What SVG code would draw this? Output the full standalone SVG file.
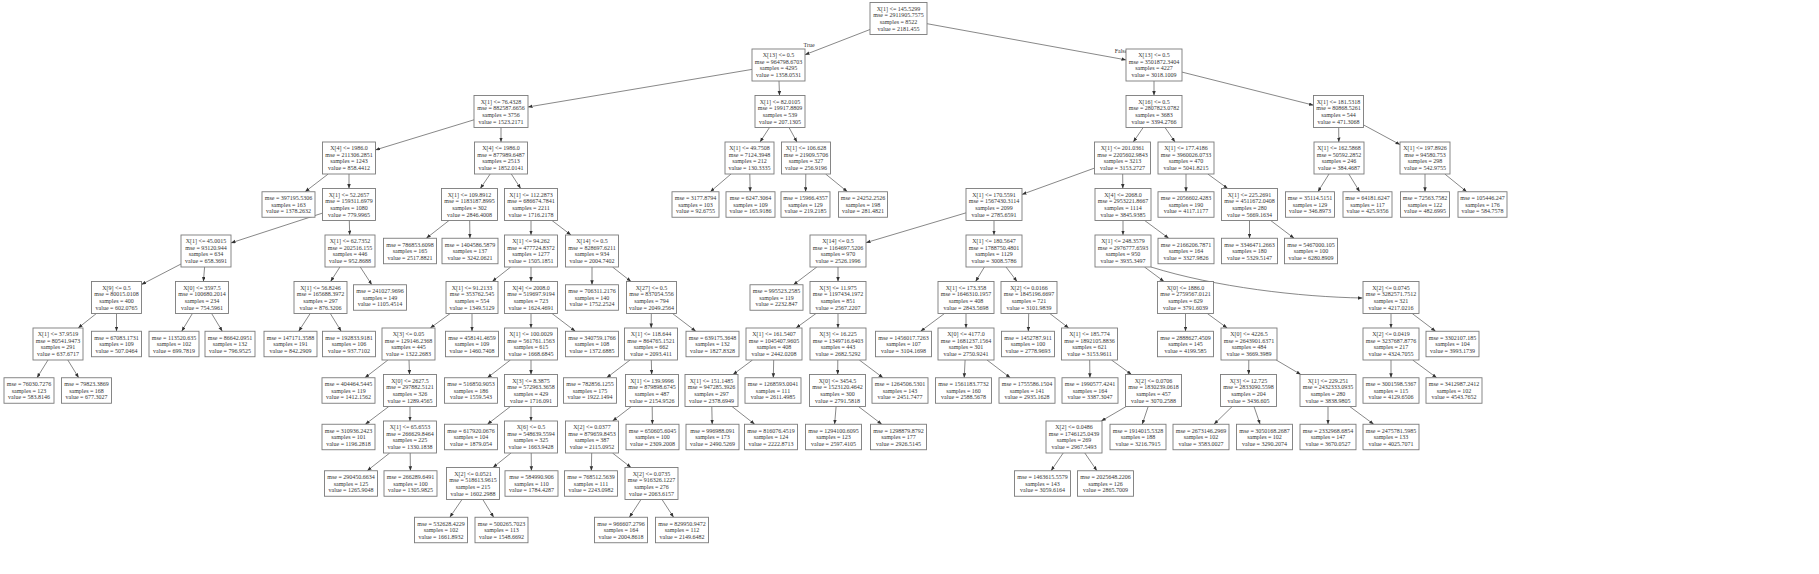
<svg xmlns="http://www.w3.org/2000/svg" width="1819" height="574" viewBox="0 0 1819 574">
<style>
rect{fill:#fff;stroke:#7a7a7a;stroke-width:0.9}
text{font-family:"Liberation Serif","Times New Roman",serif;font-size:6px;fill:#333;text-anchor:middle}
.e line,.e path{stroke:#555;stroke-width:0.7;fill:none;marker-end:url(#a)}
</style>
<defs>
<marker id="a" markerWidth="5" markerHeight="4" refX="4.5" refY="1.75" orient="auto" markerUnits="userSpaceOnUse"><path d="M0,0 L4.5,1.75 L0,3.5 z" fill="#333"/></marker>
</defs>
<rect x="0" y="0" width="1819" height="574" style="stroke:none"/>
<g class="e">
<line x1="870" y1="29.5" x2="805" y2="54.7"/>
<line x1="927" y1="23.7" x2="1126" y2="59.9"/>
<line x1="752" y1="69.4" x2="528" y2="107"/>
<line x1="779" y1="81" x2="779.5" y2="95.5"/>
<line x1="1154" y1="81" x2="1154" y2="95.5"/>
<line x1="1182" y1="72.1" x2="1313.5" y2="105.2"/>
<line x1="474" y1="119.8" x2="375.5" y2="149.9"/>
<line x1="501" y1="127.5" x2="501" y2="142"/>
<line x1="769.5" y1="127.5" x2="760" y2="142"/>
<line x1="789" y1="127.5" x2="797" y2="142"/>
<line x1="1143.2" y1="127.5" x2="1133.3" y2="142"/>
<line x1="1165" y1="127.5" x2="1175" y2="142"/>
<line x1="1338.7" y1="127.5" x2="1338.8" y2="142"/>
<line x1="1363.5" y1="124.9" x2="1400" y2="144.6"/>
<line x1="328.2" y1="174" x2="305.1" y2="191.75"/>
<line x1="349" y1="174" x2="349" y2="188.5"/>
<line x1="490.2" y1="174" x2="480.3" y2="188.5"/>
<line x1="511.3" y1="174" x2="520.7" y2="188.5"/>
<line x1="731" y1="174" x2="710.3" y2="191.75"/>
<line x1="749.8" y1="174" x2="750.2" y2="191.75"/>
<line x1="805.8" y1="174" x2="805.6" y2="191.75"/>
<line x1="825.6" y1="174" x2="847.4" y2="191.75"/>
<line x1="1094.5" y1="168.1" x2="1022" y2="194.4"/>
<line x1="1122.7" y1="174" x2="1122.8" y2="188.5"/>
<line x1="1186" y1="174" x2="1186" y2="191.75"/>
<line x1="1207.8" y1="174" x2="1227.7" y2="188.5"/>
<line x1="1329" y1="174" x2="1317.9" y2="191.75"/>
<line x1="1348.8" y1="174" x2="1359.7" y2="191.75"/>
<line x1="1425" y1="174" x2="1425" y2="191.75"/>
<line x1="1444.8" y1="174" x2="1466.7" y2="191.75"/>
<line x1="322.5" y1="213.1" x2="231" y2="242.9"/>
<line x1="349.3" y1="220.5" x2="349.7" y2="235"/>
<line x1="449" y1="220.5" x2="426.3" y2="238.25"/>
<line x1="469.7" y1="220.5" x2="469.9" y2="238.25"/>
<line x1="531" y1="220.5" x2="531" y2="235"/>
<line x1="552" y1="220.5" x2="571" y2="235"/>
<line x1="966" y1="212.85" x2="866" y2="242.65"/>
<line x1="994" y1="220.5" x2="994" y2="235"/>
<line x1="1123" y1="220.5" x2="1123" y2="235"/>
<line x1="1144.7" y1="220.5" x2="1168.7" y2="238.25"/>
<line x1="1249.5" y1="220.5" x2="1249.5" y2="238.25"/>
<line x1="1270.7" y1="220.5" x2="1294.1" y2="238.25"/>
<line x1="181" y1="264" x2="141.5" y2="284.5"/>
<line x1="204.6" y1="267" x2="203.4" y2="281.5"/>
<line x1="339.9" y1="267" x2="330.6" y2="281.5"/>
<line x1="360.3" y1="267" x2="371.8" y2="284.75"/>
<line x1="510.7" y1="267" x2="492.3" y2="281.5"/>
<line x1="531" y1="267" x2="531" y2="281.5"/>
<line x1="592" y1="267" x2="592" y2="284.75"/>
<line x1="612.5" y1="267" x2="631" y2="281.5"/>
<line x1="816.8" y1="267" x2="793.4" y2="284.75"/>
<line x1="838" y1="267" x2="838" y2="281.5"/>
<line x1="984.4" y1="267" x2="975.6" y2="281.5"/>
<line x1="1006" y1="267" x2="1017" y2="281.5"/>
<line x1="1144.5" y1="267" x2="1164" y2="281.5"/>
<path d="M1151,267 C1215,287 1300,297 1362.5,298"/>
<line x1="96.4" y1="313.5" x2="78.1" y2="328"/>
<line x1="116.5" y1="313.5" x2="116.5" y2="331.25"/>
<line x1="192.4" y1="313.5" x2="181.7" y2="331.25"/>
<line x1="211.6" y1="313.5" x2="222.3" y2="331.25"/>
<line x1="310.2" y1="313.5" x2="298.7" y2="331.25"/>
<line x1="330.3" y1="313.5" x2="341.2" y2="331.25"/>
<line x1="450.2" y1="313.5" x2="430.3" y2="328"/>
<line x1="472" y1="313.5" x2="472" y2="331.25"/>
<line x1="531" y1="313.5" x2="531" y2="328"/>
<line x1="552" y1="313.5" x2="575.3" y2="331.25"/>
<line x1="651.3" y1="313.5" x2="651.2" y2="328"/>
<line x1="672.5" y1="313.5" x2="695.8" y2="331.25"/>
<line x1="816" y1="313.5" x2="796" y2="328"/>
<line x1="838" y1="313.5" x2="838" y2="328"/>
<line x1="944.5" y1="313.5" x2="920.6" y2="331.25"/>
<line x1="966" y1="313.5" x2="966" y2="328"/>
<line x1="1028.7" y1="313.5" x2="1028.3" y2="331.25"/>
<line x1="1049.8" y1="313.5" x2="1068.7" y2="328"/>
<line x1="1185.5" y1="313.5" x2="1185.5" y2="331.25"/>
<line x1="1207.3" y1="313.5" x2="1227.2" y2="328"/>
<line x1="1391" y1="313.5" x2="1391" y2="328"/>
<line x1="1412.2" y1="313.5" x2="1435.6" y2="331.25"/>
<line x1="48" y1="360" x2="37" y2="377.75"/>
<line x1="67.8" y1="360" x2="78.7" y2="377.75"/>
<line x1="387.9" y1="360" x2="364.9" y2="377.75"/>
<line x1="409" y1="360" x2="409.5" y2="374.5"/>
<line x1="510.4" y1="360" x2="487.4" y2="377.75"/>
<line x1="531" y1="360" x2="531" y2="374.5"/>
<line x1="630" y1="360" x2="606.7" y2="377.75"/>
<line x1="651.3" y1="360" x2="651.7" y2="374.5"/>
<line x1="752.5" y1="360" x2="733" y2="374.5"/>
<line x1="773.7" y1="360" x2="773.3" y2="377.75"/>
<line x1="837.8" y1="360" x2="837.7" y2="374.5"/>
<line x1="859.3" y1="360" x2="883" y2="377.75"/>
<line x1="965.1" y1="360" x2="964.2" y2="377.75"/>
<line x1="987" y1="360" x2="1010.3" y2="377.75"/>
<line x1="1089.7" y1="360" x2="1089.9" y2="377.75"/>
<line x1="1111.5" y1="360" x2="1131.5" y2="374.5"/>
<line x1="1248.8" y1="360" x2="1248.7" y2="374.5"/>
<line x1="1276.2" y1="360" x2="1300.8" y2="374.5"/>
<line x1="1391" y1="360" x2="1391" y2="377.75"/>
<line x1="1412.7" y1="360" x2="1436.7" y2="377.75"/>
<line x1="388.8" y1="406.5" x2="365.3" y2="424.25"/>
<line x1="410" y1="406.5" x2="410" y2="421"/>
<line x1="510.4" y1="406.5" x2="487.4" y2="424.25"/>
<line x1="531" y1="406.5" x2="531" y2="421"/>
<line x1="631.4" y1="406.5" x2="612.6" y2="421"/>
<line x1="652.2" y1="406.5" x2="652.4" y2="424.25"/>
<line x1="711.8" y1="406.5" x2="712.2" y2="424.25"/>
<line x1="732" y1="406.5" x2="754.7" y2="424.25"/>
<line x1="836.1" y1="406.5" x2="834.6" y2="424.25"/>
<line x1="858.5" y1="406.5" x2="881.8" y2="424.25"/>
<line x1="1126.2" y1="406.5" x2="1101.3" y2="421"/>
<line x1="1148.2" y1="406.5" x2="1142.2" y2="424.25"/>
<line x1="1232.2" y1="406.5" x2="1214" y2="424.25"/>
<line x1="1254" y1="406.5" x2="1260.1" y2="424.25"/>
<line x1="1328" y1="406.5" x2="1328" y2="424.25"/>
<line x1="1349.7" y1="406.5" x2="1373.7" y2="424.25"/>
<line x1="389.7" y1="453" x2="367.2" y2="470.75"/>
<line x1="410.2" y1="453" x2="410.4" y2="470.75"/>
<line x1="511" y1="453" x2="493" y2="467.5"/>
<line x1="531.2" y1="453" x2="531.4" y2="470.75"/>
<line x1="591.7" y1="453" x2="591.3" y2="470.75"/>
<line x1="612.5" y1="453" x2="631" y2="467.5"/>
<line x1="1063.2" y1="453" x2="1051.1" y2="470.75"/>
<line x1="1084.8" y1="453" x2="1096.9" y2="470.75"/>
<line x1="462" y1="499.5" x2="449.8" y2="517.25"/>
<line x1="482.8" y1="499.5" x2="493.7" y2="517.25"/>
<line x1="641" y1="499.5" x2="629.4" y2="517.25"/>
<line x1="662" y1="499.5" x2="673.6" y2="517.25"/>
<text x="809" y="47">True</text>
<text x="1121" y="53">False</text>
</g>
<g id="n0"><rect x="870" y="2.5" width="57" height="32"/><text x="898.5" y="10.7"><tspan x="898.5">X[1] &lt;= 145.5299</tspan><tspan x="898.5" dy="6.6">mse = 2911905.7575</tspan><tspan x="898.5" dy="6.6">samples = 8522</tspan><tspan x="898.5" dy="6.6">value = 2181.455</tspan></text></g>
<g id="n1"><rect x="752" y="49" width="53" height="32"/><text x="778.5" y="57.2"><tspan x="778.5">X[13] &lt;= 0.5</tspan><tspan x="778.5" dy="6.6">mse = 964798.6703</tspan><tspan x="778.5" dy="6.6">samples = 4295</tspan><tspan x="778.5" dy="6.6">value = 1358.0531</tspan></text></g>
<g id="n2"><rect x="1126" y="49" width="56" height="32"/><text x="1154" y="57.2"><tspan x="1154">X[13] &lt;= 0.5</tspan><tspan x="1154" dy="6.6">mse = 3501872.3404</tspan><tspan x="1154" dy="6.6">samples = 4227</tspan><tspan x="1154" dy="6.6">value = 3018.1009</tspan></text></g>
<g id="n3"><rect x="474" y="95.5" width="54" height="32"/><text x="501" y="103.7"><tspan x="501">X[1] &lt;= 76.4328</tspan><tspan x="501" dy="6.6">mse = 882587.6656</tspan><tspan x="501" dy="6.6">samples = 3756</tspan><tspan x="501" dy="6.6">value = 1523.2171</tspan></text></g>
<g id="n4"><rect x="755" y="95.5" width="50" height="32"/><text x="780" y="103.7"><tspan x="780">X[1] &lt;= 82.0105</tspan><tspan x="780" dy="6.6">mse = 19917.8809</tspan><tspan x="780" dy="6.6">samples = 539</tspan><tspan x="780" dy="6.6">value = 207.1305</tspan></text></g>
<g id="n5"><rect x="1126" y="95.5" width="56" height="32"/><text x="1154" y="103.7"><tspan x="1154">X[16] &lt;= 0.5</tspan><tspan x="1154" dy="6.6">mse = 2807823.0782</tspan><tspan x="1154" dy="6.6">samples = 3683</tspan><tspan x="1154" dy="6.6">value = 3394.2766</tspan></text></g>
<g id="n6"><rect x="1313.5" y="95.5" width="50" height="32"/><text x="1338.5" y="103.7"><tspan x="1338.5">X[1] &lt;= 181.5318</tspan><tspan x="1338.5" dy="6.6">mse = 80868.5261</tspan><tspan x="1338.5" dy="6.6">samples = 544</tspan><tspan x="1338.5" dy="6.6">value = 471.3068</tspan></text></g>
<g id="n7"><rect x="322.5" y="142" width="53" height="32"/><text x="349" y="150.2"><tspan x="349">X[4] &lt;= 1986.0</tspan><tspan x="349" dy="6.6">mse = 211306.2851</tspan><tspan x="349" dy="6.6">samples = 1243</tspan><tspan x="349" dy="6.6">value = 858.4412</tspan></text></g>
<g id="n8"><rect x="474.5" y="142" width="53" height="32"/><text x="501" y="150.2"><tspan x="501">X[4] &lt;= 1986.0</tspan><tspan x="501" dy="6.6">mse = 877989.6487</tspan><tspan x="501" dy="6.6">samples = 2513</tspan><tspan x="501" dy="6.6">value = 1852.0141</tspan></text></g>
<g id="n9"><rect x="725" y="142" width="49" height="32"/><text x="749.5" y="150.2"><tspan x="749.5">X[1] &lt;= 49.7508</tspan><tspan x="749.5" dy="6.6">mse = 7124.3948</tspan><tspan x="749.5" dy="6.6">samples = 212</tspan><tspan x="749.5" dy="6.6">value = 130.3335</tspan></text></g>
<g id="n10"><rect x="781.5" y="142" width="49" height="32"/><text x="806" y="150.2"><tspan x="806">X[1] &lt;= 106.628</tspan><tspan x="806" dy="6.6">mse = 21909.5706</tspan><tspan x="806" dy="6.6">samples = 327</tspan><tspan x="806" dy="6.6">value = 256.9196</tspan></text></g>
<g id="n11"><rect x="1094.5" y="142" width="56" height="32"/><text x="1122.5" y="150.2"><tspan x="1122.5">X[1] &lt;= 201.0361</tspan><tspan x="1122.5" dy="6.6">mse = 2205602.9843</tspan><tspan x="1122.5" dy="6.6">samples = 3213</tspan><tspan x="1122.5" dy="6.6">value = 3153.2727</tspan></text></g>
<g id="n12"><rect x="1158" y="142" width="56" height="32"/><text x="1186" y="150.2"><tspan x="1186">X[1] &lt;= 177.4186</tspan><tspan x="1186" dy="6.6">mse = 3960026.0733</tspan><tspan x="1186" dy="6.6">samples = 470</tspan><tspan x="1186" dy="6.6">value = 5041.8215</tspan></text></g>
<g id="n13"><rect x="1314" y="142" width="50" height="32"/><text x="1339" y="150.2"><tspan x="1339">X[1] &lt;= 162.5868</tspan><tspan x="1339" dy="6.6">mse = 50592.2852</tspan><tspan x="1339" dy="6.6">samples = 246</tspan><tspan x="1339" dy="6.6">value = 384.4687</tspan></text></g>
<g id="n14"><rect x="1400" y="142" width="50" height="32"/><text x="1425" y="150.2"><tspan x="1425">X[1] &lt;= 197.8926</tspan><tspan x="1425" dy="6.6">mse = 94580.753</tspan><tspan x="1425" dy="6.6">samples = 298</tspan><tspan x="1425" dy="6.6">value = 542.9755</tspan></text></g>
<g id="n15"><rect x="262" y="191.75" width="53" height="25.5"/><text x="288.5" y="200"><tspan x="288.5">mse = 397195.5306</tspan><tspan x="288.5" dy="6.6">samples = 163</tspan><tspan x="288.5" dy="6.6">value = 1378.2632</tspan></text></g>
<g id="n16"><rect x="322.5" y="188.5" width="53" height="32"/><text x="349" y="196.7"><tspan x="349">X[1] &lt;= 52.2657</tspan><tspan x="349" dy="6.6">mse = 159311.6979</tspan><tspan x="349" dy="6.6">samples = 1080</tspan><tspan x="349" dy="6.6">value = 779.9965</tspan></text></g>
<g id="n17"><rect x="441.5" y="188.5" width="56" height="32"/><text x="469.5" y="196.7"><tspan x="469.5">X[1] &lt;= 109.8912</tspan><tspan x="469.5" dy="6.6">mse = 1183187.8995</tspan><tspan x="469.5" dy="6.6">samples = 302</tspan><tspan x="469.5" dy="6.6">value = 2846.4008</tspan></text></g>
<g id="n18"><rect x="504.5" y="188.5" width="53" height="32"/><text x="531" y="196.7"><tspan x="531">X[1] &lt;= 112.2873</tspan><tspan x="531" dy="6.6">mse = 686674.7841</tspan><tspan x="531" dy="6.6">samples = 2211</tspan><tspan x="531" dy="6.6">value = 1716.2178</tspan></text></g>
<g id="n19"><rect x="672" y="191.75" width="47" height="25.5"/><text x="695.5" y="200"><tspan x="695.5">mse = 3177.8794</tspan><tspan x="695.5" dy="6.6">samples = 103</tspan><tspan x="695.5" dy="6.6">value = 92.6755</tspan></text></g>
<g id="n20"><rect x="726" y="191.75" width="49" height="25.5"/><text x="750.5" y="200"><tspan x="750.5">mse = 6247.3064</tspan><tspan x="750.5" dy="6.6">samples = 109</tspan><tspan x="750.5" dy="6.6">value = 165.9186</tspan></text></g>
<g id="n21"><rect x="781" y="191.75" width="49" height="25.5"/><text x="805.5" y="200"><tspan x="805.5">mse = 15966.4357</tspan><tspan x="805.5" dy="6.6">samples = 129</tspan><tspan x="805.5" dy="6.6">value = 219.2185</tspan></text></g>
<g id="n22"><rect x="838.5" y="191.75" width="49" height="25.5"/><text x="863" y="200"><tspan x="863">mse = 24252.2526</tspan><tspan x="863" dy="6.6">samples = 198</tspan><tspan x="863" dy="6.6">value = 281.4821</tspan></text></g>
<g id="n23"><rect x="966" y="188.5" width="56" height="32"/><text x="994" y="196.7"><tspan x="994">X[1] &lt;= 170.5591</tspan><tspan x="994" dy="6.6">mse = 1567430.3114</tspan><tspan x="994" dy="6.6">samples = 2099</tspan><tspan x="994" dy="6.6">value = 2785.6591</tspan></text></g>
<g id="n24"><rect x="1095" y="188.5" width="56" height="32"/><text x="1123" y="196.7"><tspan x="1123">X[4] &lt;= 2068.0</tspan><tspan x="1123" dy="6.6">mse = 2953221.8667</tspan><tspan x="1123" dy="6.6">samples = 1114</tspan><tspan x="1123" dy="6.6">value = 3845.9385</tspan></text></g>
<g id="n25"><rect x="1158" y="191.75" width="56" height="25.5"/><text x="1186" y="200"><tspan x="1186">mse = 2056602.4283</tspan><tspan x="1186" dy="6.6">samples = 190</tspan><tspan x="1186" dy="6.6">value = 4117.1177</tspan></text></g>
<g id="n26"><rect x="1221.5" y="188.5" width="56" height="32"/><text x="1249.5" y="196.7"><tspan x="1249.5">X[1] &lt;= 225.2691</tspan><tspan x="1249.5" dy="6.6">mse = 4511672.0408</tspan><tspan x="1249.5" dy="6.6">samples = 280</tspan><tspan x="1249.5" dy="6.6">value = 5669.1634</tspan></text></g>
<g id="n27"><rect x="1285.5" y="191.75" width="49" height="25.5"/><text x="1310" y="200"><tspan x="1310">mse = 35114.5151</tspan><tspan x="1310" dy="6.6">samples = 129</tspan><tspan x="1310" dy="6.6">value = 346.8973</tspan></text></g>
<g id="n28"><rect x="1343" y="191.75" width="49" height="25.5"/><text x="1367.5" y="200"><tspan x="1367.5">mse = 64181.6247</tspan><tspan x="1367.5" dy="6.6">samples = 117</tspan><tspan x="1367.5" dy="6.6">value = 425.9356</tspan></text></g>
<g id="n29"><rect x="1400.5" y="191.75" width="49" height="25.5"/><text x="1425" y="200"><tspan x="1425">mse = 72563.7582</tspan><tspan x="1425" dy="6.6">samples = 122</tspan><tspan x="1425" dy="6.6">value = 482.6995</tspan></text></g>
<g id="n30"><rect x="1458" y="191.75" width="49" height="25.5"/><text x="1482.5" y="200"><tspan x="1482.5">mse = 105446.247</tspan><tspan x="1482.5" dy="6.6">samples = 176</tspan><tspan x="1482.5" dy="6.6">value = 584.7578</tspan></text></g>
<g id="n31"><rect x="181" y="235" width="50" height="32"/><text x="206" y="243.2"><tspan x="206">X[1] &lt;= 45.0015</tspan><tspan x="206" dy="6.6">mse = 93120.944</tspan><tspan x="206" dy="6.6">samples = 634</tspan><tspan x="206" dy="6.6">value = 658.3691</tspan></text></g>
<g id="n32"><rect x="325" y="235" width="50" height="32"/><text x="350" y="243.2"><tspan x="350">X[1] &lt;= 62.7352</tspan><tspan x="350" dy="6.6">mse = 202516.155</tspan><tspan x="350" dy="6.6">samples = 446</tspan><tspan x="350" dy="6.6">value = 952.8688</tspan></text></g>
<g id="n33"><rect x="383.5" y="238.25" width="53" height="25.5"/><text x="410" y="246.5"><tspan x="410">mse = 786853.6098</tspan><tspan x="410" dy="6.6">samples = 165</tspan><tspan x="410" dy="6.6">value = 2517.8821</tspan></text></g>
<g id="n34"><rect x="442" y="238.25" width="56" height="25.5"/><text x="470" y="246.5"><tspan x="470">mse = 1404586.5879</tspan><tspan x="470" dy="6.6">samples = 137</tspan><tspan x="470" dy="6.6">value = 3242.0621</tspan></text></g>
<g id="n35"><rect x="504.5" y="235" width="53" height="32"/><text x="531" y="243.2"><tspan x="531">X[1] &lt;= 94.262</tspan><tspan x="531" dy="6.6">mse = 477724.8372</tspan><tspan x="531" dy="6.6">samples = 1277</tspan><tspan x="531" dy="6.6">value = 1505.1851</tspan></text></g>
<g id="n36"><rect x="565.5" y="235" width="53" height="32"/><text x="592" y="243.2"><tspan x="592">X[14] &lt;= 0.5</tspan><tspan x="592" dy="6.6">mse = 828697.6211</tspan><tspan x="592" dy="6.6">samples = 934</tspan><tspan x="592" dy="6.6">value = 2004.7402</tspan></text></g>
<g id="n37"><rect x="810" y="235" width="56" height="32"/><text x="838" y="243.2"><tspan x="838">X[14] &lt;= 0.5</tspan><tspan x="838" dy="6.6">mse = 1164697.5206</tspan><tspan x="838" dy="6.6">samples = 970</tspan><tspan x="838" dy="6.6">value = 2526.1996</tspan></text></g>
<g id="n38"><rect x="966" y="235" width="56" height="32"/><text x="994" y="243.2"><tspan x="994">X[1] &lt;= 180.5647</tspan><tspan x="994" dy="6.6">mse = 1788750.4801</tspan><tspan x="994" dy="6.6">samples = 1129</tspan><tspan x="994" dy="6.6">value = 3008.5786</tspan></text></g>
<g id="n39"><rect x="1095" y="235" width="56" height="32"/><text x="1123" y="243.2"><tspan x="1123">X[1] &lt;= 248.3579</tspan><tspan x="1123" dy="6.6">mse = 2976777.6593</tspan><tspan x="1123" dy="6.6">samples = 950</tspan><tspan x="1123" dy="6.6">value = 3935.3497</tspan></text></g>
<g id="n40"><rect x="1158" y="238.25" width="56" height="25.5"/><text x="1186" y="246.5"><tspan x="1186">mse = 2166206.7871</tspan><tspan x="1186" dy="6.6">samples = 164</tspan><tspan x="1186" dy="6.6">value = 3327.9826</tspan></text></g>
<g id="n41"><rect x="1221.5" y="238.25" width="56" height="25.5"/><text x="1249.5" y="246.5"><tspan x="1249.5">mse = 3346471.2663</tspan><tspan x="1249.5" dy="6.6">samples = 180</tspan><tspan x="1249.5" dy="6.6">value = 5329.5147</tspan></text></g>
<g id="n42"><rect x="1284.5" y="238.25" width="53" height="25.5"/><text x="1311" y="246.5"><tspan x="1311">mse = 5467000.105</tspan><tspan x="1311" dy="6.6">samples = 100</tspan><tspan x="1311" dy="6.6">value = 6280.8909</tspan></text></g>
<g id="n43"><rect x="91.5" y="281.5" width="50" height="32"/><text x="116.5" y="289.7"><tspan x="116.5">X[9] &lt;= 0.5</tspan><tspan x="116.5" dy="6.6">mse = 80015.0108</tspan><tspan x="116.5" dy="6.6">samples = 400</tspan><tspan x="116.5" dy="6.6">value = 602.0765</tspan></text></g>
<g id="n44"><rect x="175.5" y="281.5" width="53" height="32"/><text x="202" y="289.7"><tspan x="202">X[0] &lt;= 3597.5</tspan><tspan x="202" dy="6.6">mse = 100680.2014</tspan><tspan x="202" dy="6.6">samples = 234</tspan><tspan x="202" dy="6.6">value = 754.5961</tspan></text></g>
<g id="n45"><rect x="294" y="281.5" width="53" height="32"/><text x="320.5" y="289.7"><tspan x="320.5">X[1] &lt;= 56.8246</tspan><tspan x="320.5" dy="6.6">mse = 165688.3972</tspan><tspan x="320.5" dy="6.6">samples = 297</tspan><tspan x="320.5" dy="6.6">value = 876.3206</tspan></text></g>
<g id="n46"><rect x="353.5" y="284.75" width="53" height="25.5"/><text x="380" y="293"><tspan x="380">mse = 241027.9696</tspan><tspan x="380" dy="6.6">samples = 149</tspan><tspan x="380" dy="6.6">value = 1105.4514</tspan></text></g>
<g id="n47"><rect x="446" y="281.5" width="52" height="32"/><text x="472" y="289.7"><tspan x="472">X[1] &lt;= 91.2133</tspan><tspan x="472" dy="6.6">mse = 353762.545</tspan><tspan x="472" dy="6.6">samples = 554</tspan><tspan x="472" dy="6.6">value = 1349.5129</tspan></text></g>
<g id="n48"><rect x="504.5" y="281.5" width="53" height="32"/><text x="531" y="289.7"><tspan x="531">X[4] &lt;= 2008.0</tspan><tspan x="531" dy="6.6">mse = 519697.9194</tspan><tspan x="531" dy="6.6">samples = 723</tspan><tspan x="531" dy="6.6">value = 1624.4691</tspan></text></g>
<g id="n49"><rect x="565.5" y="284.75" width="53" height="25.5"/><text x="592" y="293"><tspan x="592">mse = 706311.2176</tspan><tspan x="592" dy="6.6">samples = 140</tspan><tspan x="592" dy="6.6">value = 1752.2524</tspan></text></g>
<g id="n50"><rect x="626.5" y="281.5" width="50" height="32"/><text x="651.5" y="289.7"><tspan x="651.5">X[27] &lt;= 0.5</tspan><tspan x="651.5" dy="6.6">mse = 837054.556</tspan><tspan x="651.5" dy="6.6">samples = 794</tspan><tspan x="651.5" dy="6.6">value = 2049.2564</tspan></text></g>
<g id="n51"><rect x="750" y="284.75" width="53" height="25.5"/><text x="776.5" y="293"><tspan x="776.5">mse = 995523.2585</tspan><tspan x="776.5" dy="6.6">samples = 119</tspan><tspan x="776.5" dy="6.6">value = 2232.847</tspan></text></g>
<g id="n52"><rect x="810" y="281.5" width="56" height="32"/><text x="838" y="289.7"><tspan x="838">X[3] &lt;= 11.975</tspan><tspan x="838" dy="6.6">mse = 1197434.1972</tspan><tspan x="838" dy="6.6">samples = 851</tspan><tspan x="838" dy="6.6">value = 2567.2207</tspan></text></g>
<g id="n53"><rect x="938" y="281.5" width="56" height="32"/><text x="966" y="289.7"><tspan x="966">X[1] &lt;= 173.358</tspan><tspan x="966" dy="6.6">mse = 1646310.1957</tspan><tspan x="966" dy="6.6">samples = 408</tspan><tspan x="966" dy="6.6">value = 2843.5698</tspan></text></g>
<g id="n54"><rect x="1001" y="281.5" width="56" height="32"/><text x="1029" y="289.7"><tspan x="1029">X[2] &lt;= 0.0166</tspan><tspan x="1029" dy="6.6">mse = 1845196.6697</tspan><tspan x="1029" dy="6.6">samples = 721</tspan><tspan x="1029" dy="6.6">value = 3101.9839</tspan></text></g>
<g id="n55"><rect x="1157.5" y="281.5" width="56" height="32"/><text x="1185.5" y="289.7"><tspan x="1185.5">X[0] &lt;= 1886.0</tspan><tspan x="1185.5" dy="6.6">mse = 2759567.0121</tspan><tspan x="1185.5" dy="6.6">samples = 629</tspan><tspan x="1185.5" dy="6.6">value = 3791.6039</tspan></text></g>
<g id="n56"><rect x="1363" y="281.5" width="56" height="32"/><text x="1391" y="289.7"><tspan x="1391">X[2] &lt;= 0.0745</tspan><tspan x="1391" dy="6.6">mse = 3282571.7512</tspan><tspan x="1391" dy="6.6">samples = 321</tspan><tspan x="1391" dy="6.6">value = 4217.0216</tspan></text></g>
<g id="n57"><rect x="33" y="328" width="50" height="32"/><text x="58" y="336.2"><tspan x="58">X[1] &lt;= 37.9519</tspan><tspan x="58" dy="6.6">mse = 80541.9473</tspan><tspan x="58" dy="6.6">samples = 291</tspan><tspan x="58" dy="6.6">value = 637.6717</tspan></text></g>
<g id="n58"><rect x="91.5" y="331.25" width="50" height="25.5"/><text x="116.5" y="339.5"><tspan x="116.5">mse = 67083.1731</tspan><tspan x="116.5" dy="6.6">samples = 109</tspan><tspan x="116.5" dy="6.6">value = 507.0464</tspan></text></g>
<g id="n59"><rect x="149" y="331.25" width="50" height="25.5"/><text x="174" y="339.5"><tspan x="174">mse = 113520.635</tspan><tspan x="174" dy="6.6">samples = 102</tspan><tspan x="174" dy="6.6">value = 699.7819</tspan></text></g>
<g id="n60"><rect x="205" y="331.25" width="50" height="25.5"/><text x="230" y="339.5"><tspan x="230">mse = 86642.0951</tspan><tspan x="230" dy="6.6">samples = 132</tspan><tspan x="230" dy="6.6">value = 796.9525</tspan></text></g>
<g id="n61"><rect x="264" y="331.25" width="53" height="25.5"/><text x="290.5" y="339.5"><tspan x="290.5">mse = 147171.3588</tspan><tspan x="290.5" dy="6.6">samples = 191</tspan><tspan x="290.5" dy="6.6">value = 842.2909</tspan></text></g>
<g id="n62"><rect x="322.5" y="331.25" width="53" height="25.5"/><text x="349" y="339.5"><tspan x="349">mse = 192833.9181</tspan><tspan x="349" dy="6.6">samples = 106</tspan><tspan x="349" dy="6.6">value = 937.7102</tspan></text></g>
<g id="n63"><rect x="382" y="328" width="53" height="32"/><text x="408.5" y="336.2"><tspan x="408.5">X[3] &lt;= 0.05</tspan><tspan x="408.5" dy="6.6">mse = 129146.2368</tspan><tspan x="408.5" dy="6.6">samples = 445</tspan><tspan x="408.5" dy="6.6">value = 1322.2683</tspan></text></g>
<g id="n64"><rect x="445.5" y="331.25" width="53" height="25.5"/><text x="472" y="339.5"><tspan x="472">mse = 458141.4659</tspan><tspan x="472" dy="6.6">samples = 109</tspan><tspan x="472" dy="6.6">value = 1460.7408</tspan></text></g>
<g id="n65"><rect x="504.5" y="328" width="53" height="32"/><text x="531" y="336.2"><tspan x="531">X[1] &lt;= 100.0029</tspan><tspan x="531" dy="6.6">mse = 561761.1563</tspan><tspan x="531" dy="6.6">samples = 615</tspan><tspan x="531" dy="6.6">value = 1668.6845</tspan></text></g>
<g id="n66"><rect x="565.5" y="331.25" width="53" height="25.5"/><text x="592" y="339.5"><tspan x="592">mse = 340759.1766</tspan><tspan x="592" dy="6.6">samples = 108</tspan><tspan x="592" dy="6.6">value = 1372.6885</tspan></text></g>
<g id="n67"><rect x="624.5" y="328" width="53" height="32"/><text x="651" y="336.2"><tspan x="651">X[1] &lt;= 118.644</tspan><tspan x="651" dy="6.6">mse = 864765.1521</tspan><tspan x="651" dy="6.6">samples = 662</tspan><tspan x="651" dy="6.6">value = 2093.411</tspan></text></g>
<g id="n68"><rect x="686" y="331.25" width="53" height="25.5"/><text x="712.5" y="339.5"><tspan x="712.5">mse = 639175.3648</tspan><tspan x="712.5" dy="6.6">samples = 132</tspan><tspan x="712.5" dy="6.6">value = 1827.8328</tspan></text></g>
<g id="n69"><rect x="746" y="328" width="56" height="32"/><text x="774" y="336.2"><tspan x="774">X[1] &lt;= 161.5407</tspan><tspan x="774" dy="6.6">mse = 1045407.9605</tspan><tspan x="774" dy="6.6">samples = 408</tspan><tspan x="774" dy="6.6">value = 2442.0208</tspan></text></g>
<g id="n70"><rect x="810" y="328" width="56" height="32"/><text x="838" y="336.2"><tspan x="838">X[3] &lt;= 16.225</tspan><tspan x="838" dy="6.6">mse = 1349716.6403</tspan><tspan x="838" dy="6.6">samples = 443</tspan><tspan x="838" dy="6.6">value = 2682.5292</tspan></text></g>
<g id="n71"><rect x="875.5" y="331.25" width="56" height="25.5"/><text x="903.5" y="339.5"><tspan x="903.5">mse = 1456017.7263</tspan><tspan x="903.5" dy="6.6">samples = 107</tspan><tspan x="903.5" dy="6.6">value = 3104.1698</tspan></text></g>
<g id="n72"><rect x="938" y="328" width="56" height="32"/><text x="966" y="336.2"><tspan x="966">X[0] &lt;= 4177.0</tspan><tspan x="966" dy="6.6">mse = 1681237.1564</tspan><tspan x="966" dy="6.6">samples = 301</tspan><tspan x="966" dy="6.6">value = 2750.9241</tspan></text></g>
<g id="n73"><rect x="1001.5" y="331.25" width="53" height="25.5"/><text x="1028" y="339.5"><tspan x="1028">mse = 1452787.911</tspan><tspan x="1028" dy="6.6">samples = 100</tspan><tspan x="1028" dy="6.6">value = 2778.9693</tspan></text></g>
<g id="n74"><rect x="1061.5" y="328" width="56" height="32"/><text x="1089.5" y="336.2"><tspan x="1089.5">X[1] &lt;= 185.774</tspan><tspan x="1089.5" dy="6.6">mse = 1892105.8836</tspan><tspan x="1089.5" dy="6.6">samples = 621</tspan><tspan x="1089.5" dy="6.6">value = 3153.9611</tspan></text></g>
<g id="n75"><rect x="1157.5" y="331.25" width="56" height="25.5"/><text x="1185.5" y="339.5"><tspan x="1185.5">mse = 2888627.4509</tspan><tspan x="1185.5" dy="6.6">samples = 145</tspan><tspan x="1185.5" dy="6.6">value = 4199.585</tspan></text></g>
<g id="n76"><rect x="1221" y="328" width="56" height="32"/><text x="1249" y="336.2"><tspan x="1249">X[0] &lt;= 4226.5</tspan><tspan x="1249" dy="6.6">mse = 2643901.6371</tspan><tspan x="1249" dy="6.6">samples = 484</tspan><tspan x="1249" dy="6.6">value = 3669.3989</tspan></text></g>
<g id="n77"><rect x="1363" y="328" width="56" height="32"/><text x="1391" y="336.2"><tspan x="1391">X[2] &lt;= 0.0419</tspan><tspan x="1391" dy="6.6">mse = 3237687.8776</tspan><tspan x="1391" dy="6.6">samples = 217</tspan><tspan x="1391" dy="6.6">value = 4324.7055</tspan></text></g>
<g id="n78"><rect x="1426" y="331.25" width="53" height="25.5"/><text x="1452.5" y="339.5"><tspan x="1452.5">mse = 3302107.185</tspan><tspan x="1452.5" dy="6.6">samples = 104</tspan><tspan x="1452.5" dy="6.6">value = 3993.1739</tspan></text></g>
<g id="n79"><rect x="4" y="377.75" width="50" height="25.5"/><text x="29" y="386"><tspan x="29">mse = 76030.7276</tspan><tspan x="29" dy="6.6">samples = 123</tspan><tspan x="29" dy="6.6">value = 583.8146</tspan></text></g>
<g id="n80"><rect x="61.5" y="377.75" width="50" height="25.5"/><text x="86.5" y="386"><tspan x="86.5">mse = 79823.3869</tspan><tspan x="86.5" dy="6.6">samples = 168</tspan><tspan x="86.5" dy="6.6">value = 677.3027</tspan></text></g>
<g id="n81"><rect x="322" y="377.75" width="53" height="25.5"/><text x="348.5" y="386"><tspan x="348.5">mse = 404464.5445</tspan><tspan x="348.5" dy="6.6">samples = 119</tspan><tspan x="348.5" dy="6.6">value = 1412.1562</tspan></text></g>
<g id="n82"><rect x="383.5" y="374.5" width="53" height="32"/><text x="410" y="382.7"><tspan x="410">X[0] &lt;= 2627.5</tspan><tspan x="410" dy="6.6">mse = 297882.5121</tspan><tspan x="410" dy="6.6">samples = 326</tspan><tspan x="410" dy="6.6">value = 1289.4565</tspan></text></g>
<g id="n83"><rect x="444.5" y="377.75" width="53" height="25.5"/><text x="471" y="386"><tspan x="471">mse = 516850.9053</tspan><tspan x="471" dy="6.6">samples = 186</tspan><tspan x="471" dy="6.6">value = 1559.543</tspan></text></g>
<g id="n84"><rect x="504.5" y="374.5" width="53" height="32"/><text x="531" y="382.7"><tspan x="531">X[3] &lt;= 8.3875</tspan><tspan x="531" dy="6.6">mse = 572963.3658</tspan><tspan x="531" dy="6.6">samples = 429</tspan><tspan x="531" dy="6.6">value = 1716.091</tspan></text></g>
<g id="n85"><rect x="563.5" y="377.75" width="53" height="25.5"/><text x="590" y="386"><tspan x="590">mse = 782856.1255</tspan><tspan x="590" dy="6.6">samples = 175</tspan><tspan x="590" dy="6.6">value = 1922.1494</tspan></text></g>
<g id="n86"><rect x="625.5" y="374.5" width="53" height="32"/><text x="652" y="382.7"><tspan x="652">X[1] &lt;= 139.9996</tspan><tspan x="652" dy="6.6">mse = 879898.6745</tspan><tspan x="652" dy="6.6">samples = 487</tspan><tspan x="652" dy="6.6">value = 2154.9526</tspan></text></g>
<g id="n87"><rect x="685" y="374.5" width="53" height="32"/><text x="711.5" y="382.7"><tspan x="711.5">X[1] &lt;= 151.1485</tspan><tspan x="711.5" dy="6.6">mse = 947285.3926</tspan><tspan x="711.5" dy="6.6">samples = 297</tspan><tspan x="711.5" dy="6.6">value = 2378.6949</tspan></text></g>
<g id="n88"><rect x="745" y="377.75" width="56" height="25.5"/><text x="773" y="386"><tspan x="773">mse = 1268593.0041</tspan><tspan x="773" dy="6.6">samples = 111</tspan><tspan x="773" dy="6.6">value = 2611.4985</tspan></text></g>
<g id="n89"><rect x="809.5" y="374.5" width="56" height="32"/><text x="837.5" y="382.7"><tspan x="837.5">X[0] &lt;= 3454.5</tspan><tspan x="837.5" dy="6.6">mse = 1523120.4642</tspan><tspan x="837.5" dy="6.6">samples = 300</tspan><tspan x="837.5" dy="6.6">value = 2791.5818</tspan></text></g>
<g id="n90"><rect x="872" y="377.75" width="56" height="25.5"/><text x="900" y="386"><tspan x="900">mse = 1264506.5301</tspan><tspan x="900" dy="6.6">samples = 143</tspan><tspan x="900" dy="6.6">value = 2451.7477</tspan></text></g>
<g id="n91"><rect x="935.5" y="377.75" width="56" height="25.5"/><text x="963.5" y="386"><tspan x="963.5">mse = 1561183.7732</tspan><tspan x="963.5" dy="6.6">samples = 160</tspan><tspan x="963.5" dy="6.6">value = 2588.5678</tspan></text></g>
<g id="n92"><rect x="999" y="377.75" width="56" height="25.5"/><text x="1027" y="386"><tspan x="1027">mse = 1755586.1504</tspan><tspan x="1027" dy="6.6">samples = 141</tspan><tspan x="1027" dy="6.6">value = 2935.1628</tspan></text></g>
<g id="n93"><rect x="1062" y="377.75" width="56" height="25.5"/><text x="1090" y="386"><tspan x="1090">mse = 1990577.4241</tspan><tspan x="1090" dy="6.6">samples = 164</tspan><tspan x="1090" dy="6.6">value = 3387.3047</tspan></text></g>
<g id="n94"><rect x="1125.5" y="374.5" width="56" height="32"/><text x="1153.5" y="382.7"><tspan x="1153.5">X[2] &lt;= 0.0706</tspan><tspan x="1153.5" dy="6.6">mse = 1830239.0618</tspan><tspan x="1153.5" dy="6.6">samples = 457</tspan><tspan x="1153.5" dy="6.6">value = 3070.2588</tspan></text></g>
<g id="n95"><rect x="1220.5" y="374.5" width="56" height="32"/><text x="1248.5" y="382.7"><tspan x="1248.5">X[3] &lt;= 12.725</tspan><tspan x="1248.5" dy="6.6">mse = 2833090.5598</tspan><tspan x="1248.5" dy="6.6">samples = 204</tspan><tspan x="1248.5" dy="6.6">value = 3436.605</tspan></text></g>
<g id="n96"><rect x="1300" y="374.5" width="56" height="32"/><text x="1328" y="382.7"><tspan x="1328">X[1] &lt;= 229.251</tspan><tspan x="1328" dy="6.6">mse = 2432333.0935</tspan><tspan x="1328" dy="6.6">samples = 280</tspan><tspan x="1328" dy="6.6">value = 3838.9805</tspan></text></g>
<g id="n97"><rect x="1363" y="377.75" width="56" height="25.5"/><text x="1391" y="386"><tspan x="1391">mse = 3001598.5367</tspan><tspan x="1391" dy="6.6">samples = 115</tspan><tspan x="1391" dy="6.6">value = 4129.6506</tspan></text></g>
<g id="n98"><rect x="1426" y="377.75" width="56" height="25.5"/><text x="1454" y="386"><tspan x="1454">mse = 3412987.2412</tspan><tspan x="1454" dy="6.6">samples = 102</tspan><tspan x="1454" dy="6.6">value = 4543.7652</tspan></text></g>
<g id="n99"><rect x="322" y="424.25" width="53" height="25.5"/><text x="348.5" y="432.5"><tspan x="348.5">mse = 310936.2423</tspan><tspan x="348.5" dy="6.6">samples = 101</tspan><tspan x="348.5" dy="6.6">value = 1196.2818</tspan></text></g>
<g id="n100"><rect x="383.5" y="421" width="53" height="32"/><text x="410" y="429.2"><tspan x="410">X[1] &lt;= 65.6553</tspan><tspan x="410" dy="6.6">mse = 266629.8464</tspan><tspan x="410" dy="6.6">samples = 225</tspan><tspan x="410" dy="6.6">value = 1330.1838</tspan></text></g>
<g id="n101"><rect x="444.5" y="424.25" width="53" height="25.5"/><text x="471" y="432.5"><tspan x="471">mse = 617920.0676</tspan><tspan x="471" dy="6.6">samples = 104</tspan><tspan x="471" dy="6.6">value = 1879.054</tspan></text></g>
<g id="n102"><rect x="504.5" y="421" width="53" height="32"/><text x="531" y="429.2"><tspan x="531">X[6] &lt;= 0.5</tspan><tspan x="531" dy="6.6">mse = 548639.5594</tspan><tspan x="531" dy="6.6">samples = 325</tspan><tspan x="531" dy="6.6">value = 1663.9428</tspan></text></g>
<g id="n103"><rect x="565.5" y="421" width="53" height="32"/><text x="592" y="429.2"><tspan x="592">X[2] &lt;= 0.0377</tspan><tspan x="592" dy="6.6">mse = 879659.8453</tspan><tspan x="592" dy="6.6">samples = 387</tspan><tspan x="592" dy="6.6">value = 2115.0952</tspan></text></g>
<g id="n104"><rect x="626" y="424.25" width="53" height="25.5"/><text x="652.5" y="432.5"><tspan x="652.5">mse = 650605.6045</tspan><tspan x="652.5" dy="6.6">samples = 100</tspan><tspan x="652.5" dy="6.6">value = 2309.2008</tspan></text></g>
<g id="n105"><rect x="686" y="424.25" width="53" height="25.5"/><text x="712.5" y="432.5"><tspan x="712.5">mse = 996988.091</tspan><tspan x="712.5" dy="6.6">samples = 173</tspan><tspan x="712.5" dy="6.6">value = 2490.5269</tspan></text></g>
<g id="n106"><rect x="744.5" y="424.25" width="53" height="25.5"/><text x="771" y="432.5"><tspan x="771">mse = 816076.4519</tspan><tspan x="771" dy="6.6">samples = 124</tspan><tspan x="771" dy="6.6">value = 2222.8713</tspan></text></g>
<g id="n107"><rect x="805.5" y="424.25" width="56" height="25.5"/><text x="833.5" y="432.5"><tspan x="833.5">mse = 1294100.6095</tspan><tspan x="833.5" dy="6.6">samples = 123</tspan><tspan x="833.5" dy="6.6">value = 2597.4105</tspan></text></g>
<g id="n108"><rect x="870.5" y="424.25" width="56" height="25.5"/><text x="898.5" y="432.5"><tspan x="898.5">mse = 1298879.8792</tspan><tspan x="898.5" dy="6.6">samples = 177</tspan><tspan x="898.5" dy="6.6">value = 2926.5145</tspan></text></g>
<g id="n109"><rect x="1046" y="421" width="56" height="32"/><text x="1074" y="429.2"><tspan x="1074">X[2] &lt;= 0.0486</tspan><tspan x="1074" dy="6.6">mse = 1746125.0439</tspan><tspan x="1074" dy="6.6">samples = 269</tspan><tspan x="1074" dy="6.6">value = 2967.5493</tspan></text></g>
<g id="n110"><rect x="1110" y="424.25" width="56" height="25.5"/><text x="1138" y="432.5"><tspan x="1138">mse = 1914015.5328</tspan><tspan x="1138" dy="6.6">samples = 188</tspan><tspan x="1138" dy="6.6">value = 3216.7915</tspan></text></g>
<g id="n111"><rect x="1173" y="424.25" width="56" height="25.5"/><text x="1201" y="432.5"><tspan x="1201">mse = 2673146.2969</tspan><tspan x="1201" dy="6.6">samples = 102</tspan><tspan x="1201" dy="6.6">value = 3583.0027</tspan></text></g>
<g id="n112"><rect x="1236.5" y="424.25" width="56" height="25.5"/><text x="1264.5" y="432.5"><tspan x="1264.5">mse = 3050168.2687</tspan><tspan x="1264.5" dy="6.6">samples = 102</tspan><tspan x="1264.5" dy="6.6">value = 3290.2074</tspan></text></g>
<g id="n113"><rect x="1300" y="424.25" width="56" height="25.5"/><text x="1328" y="432.5"><tspan x="1328">mse = 2332968.6854</tspan><tspan x="1328" dy="6.6">samples = 147</tspan><tspan x="1328" dy="6.6">value = 3670.0527</tspan></text></g>
<g id="n114"><rect x="1363" y="424.25" width="56" height="25.5"/><text x="1391" y="432.5"><tspan x="1391">mse = 2475781.5985</tspan><tspan x="1391" dy="6.6">samples = 133</tspan><tspan x="1391" dy="6.6">value = 4025.7071</tspan></text></g>
<g id="n115"><rect x="324.5" y="470.75" width="53" height="25.5"/><text x="351" y="479"><tspan x="351">mse = 290450.6634</tspan><tspan x="351" dy="6.6">samples = 125</tspan><tspan x="351" dy="6.6">value = 1265.9048</tspan></text></g>
<g id="n116"><rect x="384" y="470.75" width="53" height="25.5"/><text x="410.5" y="479"><tspan x="410.5">mse = 266289.6491</tspan><tspan x="410.5" dy="6.6">samples = 100</tspan><tspan x="410.5" dy="6.6">value = 1305.9825</tspan></text></g>
<g id="n117"><rect x="446.5" y="467.5" width="53" height="32"/><text x="473" y="475.7"><tspan x="473">X[2] &lt;= 0.0521</tspan><tspan x="473" dy="6.6">mse = 518613.9615</tspan><tspan x="473" dy="6.6">samples = 215</tspan><tspan x="473" dy="6.6">value = 1602.2988</tspan></text></g>
<g id="n118"><rect x="505" y="470.75" width="53" height="25.5"/><text x="531.5" y="479"><tspan x="531.5">mse = 584990.906</tspan><tspan x="531.5" dy="6.6">samples = 110</tspan><tspan x="531.5" dy="6.6">value = 1784.4287</tspan></text></g>
<g id="n119"><rect x="564.5" y="470.75" width="53" height="25.5"/><text x="591" y="479"><tspan x="591">mse = 768512.5639</tspan><tspan x="591" dy="6.6">samples = 111</tspan><tspan x="591" dy="6.6">value = 2243.0982</tspan></text></g>
<g id="n120"><rect x="625" y="467.5" width="53" height="32"/><text x="651.5" y="475.7"><tspan x="651.5">X[2] &lt;= 0.0735</tspan><tspan x="651.5" dy="6.6">mse = 916326.1227</tspan><tspan x="651.5" dy="6.6">samples = 276</tspan><tspan x="651.5" dy="6.6">value = 2063.6157</tspan></text></g>
<g id="n121"><rect x="1014.5" y="470.75" width="56" height="25.5"/><text x="1042.5" y="479"><tspan x="1042.5">mse = 1463615.5579</tspan><tspan x="1042.5" dy="6.6">samples = 143</tspan><tspan x="1042.5" dy="6.6">value = 3059.6164</tspan></text></g>
<g id="n122"><rect x="1077.5" y="470.75" width="56" height="25.5"/><text x="1105.5" y="479"><tspan x="1105.5">mse = 2025648.2206</tspan><tspan x="1105.5" dy="6.6">samples = 126</tspan><tspan x="1105.5" dy="6.6">value = 2865.7009</tspan></text></g>
<g id="n123"><rect x="414.5" y="517.25" width="53" height="25.5"/><text x="441" y="525.5"><tspan x="441">mse = 532628.4229</tspan><tspan x="441" dy="6.6">samples = 102</tspan><tspan x="441" dy="6.6">value = 1661.8932</tspan></text></g>
<g id="n124"><rect x="475" y="517.25" width="53" height="25.5"/><text x="501.5" y="525.5"><tspan x="501.5">mse = 500265.7023</tspan><tspan x="501.5" dy="6.6">samples = 113</tspan><tspan x="501.5" dy="6.6">value = 1548.6692</tspan></text></g>
<g id="n125"><rect x="594.5" y="517.25" width="53" height="25.5"/><text x="621" y="525.5"><tspan x="621">mse = 966607.2796</tspan><tspan x="621" dy="6.6">samples = 164</tspan><tspan x="621" dy="6.6">value = 2004.8618</tspan></text></g>
<g id="n126"><rect x="655.5" y="517.25" width="53" height="25.5"/><text x="682" y="525.5"><tspan x="682">mse = 829950.9472</tspan><tspan x="682" dy="6.6">samples = 112</tspan><tspan x="682" dy="6.6">value = 2149.6482</tspan></text></g>
</svg>
